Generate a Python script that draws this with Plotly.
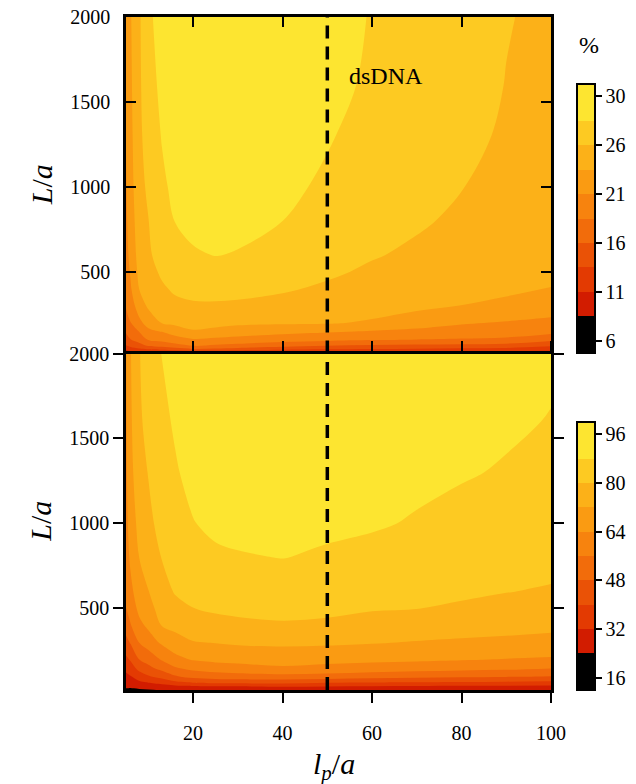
import numpy as np
import plotly.graph_objects as go
from plotly.subplots import make_subplots

# ---------------- data ----------------
lp = [5, 6, 8, 10, 13, 16, 20, 25, 30, 40, 50, 60, 70, 80, 90, 100]
L = [20, 30, 45, 65, 100, 150, 200, 300, 400, 500, 600, 800, 1000, 1300, 1600, 2000]

# top panel (%) : one list per lp value, entries follow L
pct_cols = [
    [8.1, 9.6, 11.2, 13.0, 14.6, 15.9, 16.9, 18.2, 18.9, 19.4, 19.7, 20.0, 20.2, 20.5, 20.7, 20.9],
    [8.5, 10.2, 12.0, 13.8, 15.5, 17.0, 17.9, 19.3, 20.1, 20.6, 21.0, 21.5, 21.9, 22.2, 22.4, 22.6],
    [8.8, 10.7, 12.8, 14.6, 16.6, 18.1, 19.9, 21.5, 22.9, 23.5, 23.9, 24.3, 24.5, 24.7, 24.8, 24.9],
    [9.0, 10.9, 13.3, 15.7, 18.1, 19.9, 21.2, 23.2, 24.0, 24.5, 24.9, 25.15, 25.6, 26.3, 26.9, 27.3],
    [9.3, 11.2, 13.8, 16.3, 18.6, 20.5, 22.9, 24.2, 24.9, 25.5, 26.0, 26.7, 27.2, 27.7, 28.0, 28.2],
    [9.5, 11.5, 14.5, 17.2, 19.3, 21.6, 23.3, 24.7, 25.5, 26.3, 26.9, 27.65, 28.1, 28.5, 28.7, 28.8],
    [9.7, 11.6, 15.3, 18.05, 20.1, 22.6, 23.6, 24.9, 25.9, 26.8, 27.4, 28.1, 28.5, 28.9, 29.1, 29.2],
    [9.6, 11.4, 15.0, 17.6, 19.8, 22.3, 23.4, 24.9, 26.0, 26.9, 27.65, 28.2, 28.6, 28.9, 29.1, 29.2],
    [9.5, 11.0, 14.6, 17.2, 19.5, 21.8, 23.2, 24.8, 25.9, 26.8, 27.5, 28.1, 28.4, 28.6, 28.8, 28.9],
    [9.3, 10.85, 13.7, 16.4, 18.8, 21.2, 23.1, 24.6, 25.4, 26.1, 26.7, 27.6, 28.0, 28.3, 28.5, 28.6],
    [9.2, 10.6, 13.15, 15.55, 18.5, 20.7, 23.0, 24.3, 24.9, 25.5, 25.9, 26.6, 27.3, 27.75, 28.15, 28.3],
    [9.1, 10.5, 13.0, 15.2, 18.1, 20.2, 22.5, 23.8, 24.5, 24.9, 25.35, 26.0, 26.5, 26.95, 27.3, 27.5],
    [9.0, 10.4, 12.8, 15.0, 17.9, 19.8, 21.6, 23.3, 24.0, 24.45, 24.85, 25.45, 25.9, 26.3, 26.6, 26.8],
    [8.9, 10.3, 12.6, 14.8, 17.7, 19.5, 20.6, 22.75, 23.6, 24.0, 24.35, 24.85, 25.25, 25.7, 26.0, 26.2],
    [8.8, 10.2, 12.4, 14.5, 17.5, 19.2, 20.2, 22.3, 23.2, 23.6, 23.9, 24.3, 24.6, 24.95, 25.15, 25.3],
    [8.7, 10.0, 12.0, 13.4, 16.1, 18.8, 19.8, 21.6, 22.75, 23.2, 23.5, 23.9, 24.2, 24.5, 24.6, 24.8],
]

# bottom panel : one list per lp value, entries follow L
low_cols = [
    [21.5, 24.1, 26.5, 28.0, 30.2, 34.0, 38.3, 45.8, 51.3, 55.9, 58.0, 60.3, 61.5, 62.5, 63.1, 63.6],
    [22.5, 23.5, 26.5, 28.8, 31.5, 36.8, 40.8, 48.6, 55.4, 59.5, 62.0, 65.3, 67.8, 69.8, 70.8, 71.5],
    [22.8, 24.8, 28.2, 30.7, 36.6, 42.5, 48.2, 56.3, 62.1, 66.0, 68.5, 72.2, 74.5, 77.0, 78.5, 79.5],
    [23.2, 25.5, 29.0, 32.5, 39.2, 46.2, 51.0, 60.1, 65.5, 69.0, 71.8, 76.0, 78.2, 80.3, 83.0, 86.0],
    [24.1, 26.3, 30.2, 34.5, 43.0, 50.5, 56.8, 65.2, 72.2, 75.5, 77.5, 80.2, 82.5, 85.0, 86.8, 88.1],
    [24.2, 26.8, 31.3, 38.5, 47.2, 55.4, 61.5, 69.0, 74.0, 78.1, 80.5, 83.8, 85.8, 87.5, 88.6, 89.5],
    [24.3, 27.3, 32.4, 40.8, 50.8, 58.4, 64.7, 71.6, 76.5, 79.9, 82.2, 85.5, 87.8, 89.5, 90.6, 91.3],
    [24.4, 27.5, 33.1, 42.1, 52.3, 60.1, 66.1, 72.3, 77.5, 81.1, 83.5, 87.1, 89.1, 90.6, 91.5, 92.1],
    [24.5, 27.6, 33.3, 42.5, 53.1, 61.1, 66.7, 73.1, 78.3, 81.7, 84.3, 87.6, 89.5, 91.1, 91.8, 92.3],
    [25.0, 28.5, 34.5, 43.1, 53.5, 63.1, 67.1, 73.6, 79.1, 82.3, 84.8, 88.1, 89.6, 91.1, 91.8, 92.3],
    [25.0, 28.1, 33.5, 41.1, 53.1, 61.6, 66.8, 73.2, 78.7, 81.6, 83.8, 87.4, 88.9, 90.1, 90.6, 91.1],
    [24.8, 27.8, 33.1, 40.5, 51.5, 60.5, 66.1, 72.5, 77.5, 80.5, 82.8, 86.6, 88.5, 89.6, 90.2, 90.6],
    [24.6, 27.5, 32.6, 39.8, 50.5, 59.7, 65.3, 71.6, 76.5, 80.1, 82.1, 85.3, 87.6, 89.1, 89.8, 90.3],
    [24.5, 27.2, 32.2, 39.3, 49.6, 58.8, 64.5, 70.9, 75.5, 79.1, 81.1, 84.2, 86.6, 88.4, 89.3, 89.9],
    [24.4, 27.1, 31.9, 38.8, 48.8, 58.1, 63.7, 70.3, 74.7, 77.8, 80.2, 83.3, 85.6, 87.6, 88.7, 89.5],
    [24.3, 26.8, 31.7, 38.4, 47.8, 56.5, 63.1, 69.6, 73.8, 76.8, 79.3, 82.5, 84.8, 86.6, 87.8, 88.8],
]

dsdna_lp = 50
dsdna_label = "dsDNA"

top_levels = dict(start=6, end=30, size=2.4)
top_tickvals = [6, 10.8, 15.6, 20.4, 25.2, 30]
top_ticktext = ["6", "11", "16", "21", "26", "30"]
bot_levels = dict(start=16, end=96, size=8)
bot_tickvals = [16, 32, 48, 64, 80, 96]
bot_ticktext = ["16", "32", "48", "64", "80", "96"]

band_colors = ["#000000", "#d21c00", "#e33a02", "#ea5206", "#f26c0b",
               "#f7830e", "#fa9b12", "#fcb118", "#fdca22", "#fde530"]

# ---------------- figure ----------------
n = len(band_colors)
cscale = []
for i, c in enumerate(band_colors):
    cscale.append([i / n, c])
    cscale.append([(i + 1) / n, c])

z_top = np.array(pct_cols).T
z_bot = np.array(low_cols).T

FONT = "Liberation Serif"

fig = make_subplots(rows=2, cols=1, shared_xaxes=True, vertical_spacing=0)

cb_common = dict(x=1.061, xanchor="left", yanchor="middle", lenmode="fraction",
                 thickness=18, xpad=0, ypad=0, outlinecolor="black", outlinewidth=2,
                 ticks="outside", ticklen=6, tickwidth=1.5, tickcolor="black",
                 tickfont=dict(family=FONT, size=20, color="black"))

fig.add_trace(go.Contour(
    x=lp, y=L, z=z_top, autocontour=False,
    contours=dict(coloring="fill", showlines=False, **top_levels),
    colorscale=cscale, line=dict(width=0),
    colorbar=dict(y=0.7006, len=0.4, tickvals=top_tickvals, ticktext=top_ticktext,
                  **cb_common),
    hoverinfo="skip",
), row=1, col=1)

fig.add_trace(go.Contour(
    x=lp, y=L, z=z_bot, autocontour=False,
    contours=dict(coloring="fill", showlines=False, **bot_levels),
    colorscale=cscale, line=dict(width=0),
    colorbar=dict(y=0.199, len=0.398, tickvals=bot_tickvals, ticktext=bot_ticktext,
                  **cb_common),
    hoverinfo="skip",
), row=2, col=1)

axis_common = dict(showline=True, linecolor="black", linewidth=2.5, mirror="ticks",
                   tickcolor="black", tickwidth=1.5, ticklen=10, showgrid=False,
                   zeroline=False, ticklabeloverflow="allow",
                   tickfont=dict(family=FONT, size=20, color="black"))

fig.update_xaxes(range=[5, 100], tickvals=[20, 40, 60, 80, 100], **axis_common)
fig.update_xaxes(ticks="inside", showticklabels=False, row=1, col=1)
fig.update_xaxes(ticks="outside", ticklabelstandoff=13, row=2, col=1)
fig.update_yaxes(range=[20, 2000], tickvals=[500, 1000, 1500, 2000], **axis_common)
fig.update_yaxes(ticks="inside", ticklabelstandoff=9, row=1, col=1)
fig.update_yaxes(ticks="outside", ticklabelstandoff=0, row=2, col=1)

for r in (1, 2):
    fig.add_vline(x=dsdna_lp, line=dict(color="black", width=3.5, dash="13px,8px"),
                  row=r, col=1)

fig.add_annotation(x=54.5, y=1650, xref="x", yref="y", text=dsdna_label,
                   showarrow=False, xanchor="left", yanchor="middle",
                   font=dict(family=FONT, size=24, color="black"))
fig.add_annotation(x=1.09, y=0.958, xref="paper", yref="paper", text="%",
                   showarrow=False, xanchor="center", yanchor="middle",
                   font=dict(family=FONT, size=24, color="black"))
for yc in (0.75, 0.25):
    fig.add_annotation(x=-0.2, y=yc, xref="paper", yref="paper",
                       text="<i>L</i>/<i>a</i>", textangle=-90, showarrow=False,
                       xanchor="center", yanchor="middle",
                       font=dict(family=FONT, size=30, color="black"))
fig.add_annotation(x=0.49, y=-0.113, xref="paper", yref="paper",
                   text="<i>l</i><sub><i>p</i></sub>/<i>a</i>", showarrow=False,
                   xanchor="center", yanchor="middle",
                   font=dict(family=FONT, size=30, color="black"))

# the page adds an 8px body margin, so the figure starts 8px in from the top-left
fig.update_layout(width=628, height=776,
                  margin=dict(l=118, r=85, t=9, b=94, autoexpand=False),
                  paper_bgcolor="white", plot_bgcolor="white", showlegend=False)

fig.write_html("out.html")
